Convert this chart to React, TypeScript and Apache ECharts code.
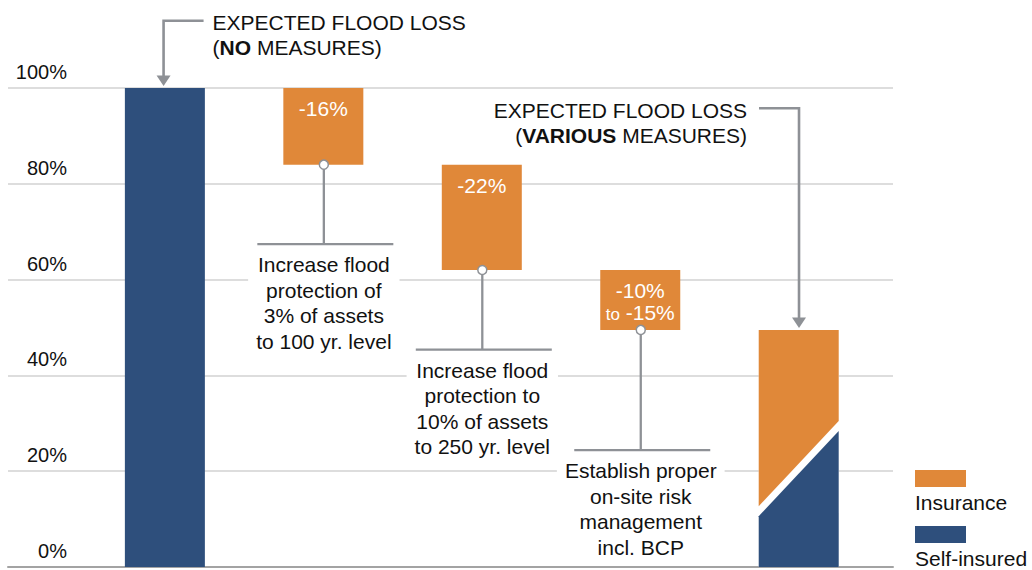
import React, { useEffect, useRef } from "react";
import * as echarts from "echarts";

// ---------------- data ----------------
const stageNames = [
  "No measures",
  "Flood protection 100 yr.",
  "Flood protection 250 yr.",
  "On-site risk management",
  "Various measures",
];
const stageX = [1, 2, 3, 4, 5];
const noMeasuresLoss = 100;
const reductionTops = [100, 84, 62];
const reductionBottoms = [84, 62, 49.5];
const reductionLabels = [["-16%"], ["-22%"], ["-10%", "to -15%"]];
const measureTexts = [
  ["Increase flood", "protection of", "3% of assets", "to 100 yr. level"],
  ["Increase flood", "protection to", "10% of assets", "to 250 yr. level"],
  ["Establish proper", "on-site risk", "management", "incl. BCP"],
];
const variousMeasuresLoss = 49.5;
const selfInsuredSplit = [10.6, 28.4]; // self-insured share at left / right edge of last bar
const yAxisMin = 0;
const yAxisMax = 100;
const yAxisInterval = 20;
const headingLines = [
  ["EXPECTED FLOOD LOSS", "(NO MEASURES)"],
  ["EXPECTED FLOOD LOSS", "(VARIOUS MEASURES)"],
];
const headingBold = ["NO", "VARIOUS"];
const legendNames = ["Insurance", "Self-insured"];

// ---------------- layout & style ----------------
const FONT = '"Liberation Sans", Arial, Helvetica, sans-serif';
const ORANGE = "#E08839";
const NAVY = "#2E4F7C";
const GREY = "#8E9196";
const TEXT_COLOR = "#111111";
const GRID = { left: 8, right: 139, top: 88, bottom: 3 };
const X_MIN = 0.01;
const X_MAX = 5.595;
const BAR_W = 80;
const calloutLineLevels = [67.4, 45.4, 24.4];
const arrowElbowY = [20.7, 108.3];
const arrowDir = [1, -1];
const splitGap = 2.1;

function textEl(text: string, x: number, y: number, align: string, extra: any = {}) {
  return {
    type: "text",
    x,
    y,
    style: {
      text,
      fontFamily: FONT,
      fontSize: 21,
      fill: TEXT_COLOR,
      align,
      textAlign: align,
      verticalAlign: "middle",
      textVerticalAlign: "middle",
      ...extra,
    },
  };
}

function buildOption() {
  const selfInsuredBar = {
    type: "custom",
    name: "Self-insured",
    z: 2,
    data: [[stageX[0], 0, noMeasuresLoss]],
    renderItem: (params: any, api: any) => {
      const x = api.value(0);
      const [cx, yTop] = api.coord([x, api.value(2)]);
      const yBot = api.coord([x, api.value(1)])[1];
      return {
        type: "rect",
        shape: { x: cx - BAR_W / 2, y: yTop, width: BAR_W, height: yBot - yTop },
        style: { fill: NAVY },
      };
    },
  };

  const reductions = {
    type: "custom",
    name: "Reductions",
    z: 2,
    data: reductionTops.map((t, i) => [stageX[i + 1], reductionBottoms[i], t]),
    renderItem: (params: any, api: any) => {
      const x = api.value(0);
      const [cx, yTop] = api.coord([x, api.value(2)]);
      const yBot = api.coord([x, api.value(1)])[1];
      const children: any[] = [
        {
          type: "rect",
          shape: { x: cx - BAR_W / 2, y: yTop, width: BAR_W, height: yBot - yTop },
          style: { fill: ORANGE },
        },
      ];
      reductionLabels[params.dataIndex].forEach((line, i) => {
        const rich = line.startsWith("to ");
        const t = rich ? "{s|to} {n|" + line.slice(3) + "}" : line;
        children.push(
          textEl(t, cx, yTop + 20.5 + i * 22, "center", {
            fill: "#ffffff",
            rich: rich
              ? {
                  s: { fontFamily: FONT, fontSize: 17, fill: "#ffffff", verticalAlign: "bottom" },
                  n: { fontFamily: FONT, fontSize: 21, fill: "#ffffff" },
                }
              : undefined,
          })
        );
      });
      return { type: "group", children };
    },
  };

  const callouts = {
    type: "custom",
    name: "Measures",
    z: 3,
    data: reductionBottoms.map((b, i) => [stageX[i + 1], b, calloutLineLevels[i]]),
    renderItem: (params: any, api: any) => {
      const x = api.value(0);
      const [cx0, yb] = api.coord([x, api.value(1)]);
      const yh = api.coord([x, api.value(2)])[1];
      const cx = cx0 + 0.5;
      return {
        type: "group",
        children: [
          {
            type: "line",
            shape: { x1: cx, y1: yb, x2: cx, y2: yh },
            style: { stroke: GREY, lineWidth: 2.3 },
          },
          {
            type: "line",
            shape: { x1: cx - 66.5, y1: yh, x2: cx + 69.5, y2: yh },
            style: { stroke: GREY, lineWidth: 2.2 },
          },
          {
            type: "text",
            x: cx,
            y: yh + 8,
            style: {
              text: measureTexts[params.dataIndex].join("\n"),
              fontFamily: FONT,
              fontSize: 21,
              fill: TEXT_COLOR,
              align: "center",
              textAlign: "center",
              verticalAlign: "top",
              textVerticalAlign: "top",
              lineHeight: 25.5,
              backgroundColor: "#ffffff",
              padding: [0, 8, 0, 8],
            },
          },
          {
            type: "circle",
            shape: { cx, cy: yb, r: 4.5 },
            style: { fill: "#ffffff", stroke: GREY, lineWidth: 1.5 },
          },
        ],
      };
    },
  };

  const finalBar = {
    type: "custom",
    name: "Various measures",
    z: 2,
    data: [[stageX[4], variousMeasuresLoss, selfInsuredSplit[0], selfInsuredSplit[1]]],
    renderItem: (params: any, api: any) => {
      const x = api.value(0);
      const [cx, yTop] = api.coord([x, api.value(1)]);
      const y0 = api.coord([x, 0])[1];
      const sl = api.value(2);
      const sr = api.value(3);
      const ySL = api.coord([x, sl])[1];
      const ySR = api.coord([x, sr])[1];
      const yIL = api.coord([x, sl + splitGap])[1];
      const yIR = api.coord([x, sr + splitGap])[1];
      const L = cx - BAR_W / 2;
      const R = cx + BAR_W / 2;
      return {
        type: "group",
        children: [
          {
            type: "rect",
            shape: { x: L, y: yTop, width: BAR_W, height: y0 - yTop },
            style: { fill: "#ffffff" },
          },
          {
            type: "polygon",
            shape: { points: [[L, yTop], [R, yTop], [R, yIR], [L, yIL]] },
            style: { fill: ORANGE },
          },
          {
            type: "polygon",
            shape: { points: [[L, ySL], [R, ySR], [R, y0], [L, y0]] },
            style: { fill: NAVY },
          },
        ],
      };
    },
  };

  const arrows = {
    type: "custom",
    name: "Expected flood loss",
    z: 3,
    data: [
      [stageX[0], noMeasuresLoss],
      [stageX[4], variousMeasuresLoss],
    ],
    renderItem: (params: any, api: any) => {
      const i = params.dataIndex;
      const x = api.value(0);
      const [cx, yt] = api.coord([x, api.value(1)]);
      const ey = arrowElbowY[i];
      const dir = arrowDir[i];
      const ax = i === 0 ? cx - 1.3 : cx + 0.3;
      const tipY = yt - 2;
      const bold = headingBold[i];
      const lines = headingLines[i];
      const tx = dir > 0 ? ax + 40 + 9 : ax - 40 - 12;
      const align = dir > 0 ? "left" : "right";
      const line2 = lines[1].replace(bold, "{b|" + bold + "}");
      const parts = line2.split(/(\{b\|[^}]*\})/).filter((p) => p.length);
      const richText = parts.map((p) => (p.startsWith("{b|") ? p : "{n|" + p + "}")).join("");
      return {
        type: "group",
        children: [
          {
            type: "polyline",
            shape: { points: [[ax + dir * 40, ey], [ax, ey], [ax, tipY - 9]] },
            style: { stroke: GREY, lineWidth: 2.6, fill: "none", lineJoin: "miter" },
          },
          {
            type: "polygon",
            shape: { points: [[ax - 7, tipY - 10.5], [ax + 7, tipY - 10.5], [ax, tipY]] },
            style: { fill: GREY },
          },
          textEl(lines[0], tx, ey + 1.8, align),
          textEl(richText, tx, ey + 27, align, {
            rich: {
              n: { fontFamily: FONT, fontSize: 21, fill: TEXT_COLOR },
              b: { fontFamily: FONT, fontSize: 21, fontWeight: "bold", fill: TEXT_COLOR },
            },
          }),
        ],
      };
    },
  };

  const legendColors = [ORANGE, NAVY];
  const legendGraphic: any[] = [];
  legendNames.forEach((name, i) => {
    legendGraphic.push({
      type: "rect",
      x: 915,
      y: 470 + i * 56,
      shape: { x: 0, y: 0, width: 51, height: 17 },
      style: { fill: legendColors[i] },
    });
    legendGraphic.push({
      type: "text",
      x: 915,
      y: 502 + i * 56,
      style: {
        text: name,
        fontFamily: FONT,
        fontSize: 21,
        fill: TEXT_COLOR,
        align: "left",
        textAlign: "left",
        verticalAlign: "middle",
        textVerticalAlign: "middle",
      },
    });
  });

  return {
    animation: false,
    backgroundColor: "#ffffff",
    grid: { ...GRID, containLabel: false },
    xAxis: {
      type: "value",
      min: X_MIN,
      max: X_MAX,
      axisLine: { show: true, onZero: true, lineStyle: { color: "#a3a3a3", width: 2 } },
      axisTick: { show: false },
      axisLabel: { show: false },
      splitLine: { show: false },
    },
    yAxis: {
      type: "value",
      min: yAxisMin,
      max: yAxisMax,
      interval: yAxisInterval,
      axisLine: { show: false },
      axisTick: { show: false },
      splitLine: { show: true, lineStyle: { color: "#d2d2d2", width: 1.5 } },
      axisLabel: {
        formatter: "{value}%",
        align: "right",
        verticalAlign: "bottom",
        lineHeight: 32,
        margin: -59,
        fontSize: 20,
        fontFamily: FONT,
        color: TEXT_COLOR,
      },
    },
    graphic: legendGraphic,
    series: [selfInsuredBar, reductions, finalBar, callouts, arrows],
  };
}

export default function App() {
  const ref = useRef<HTMLDivElement>(null);
  useEffect(() => {
    document.body.style.margin = "0";
    if (!ref.current) return;
    const chart = echarts.init(ref.current, undefined, { renderer: "svg" });
    chart.setOption(buildOption() as any);
    return () => chart.dispose();
  }, []);
  return (
    <div
      ref={ref}
      style={{ position: "fixed", left: 0, top: 0, width: 1032, height: 570 }}
      data-stages={stageNames.join("|")}
    />
  );
}
